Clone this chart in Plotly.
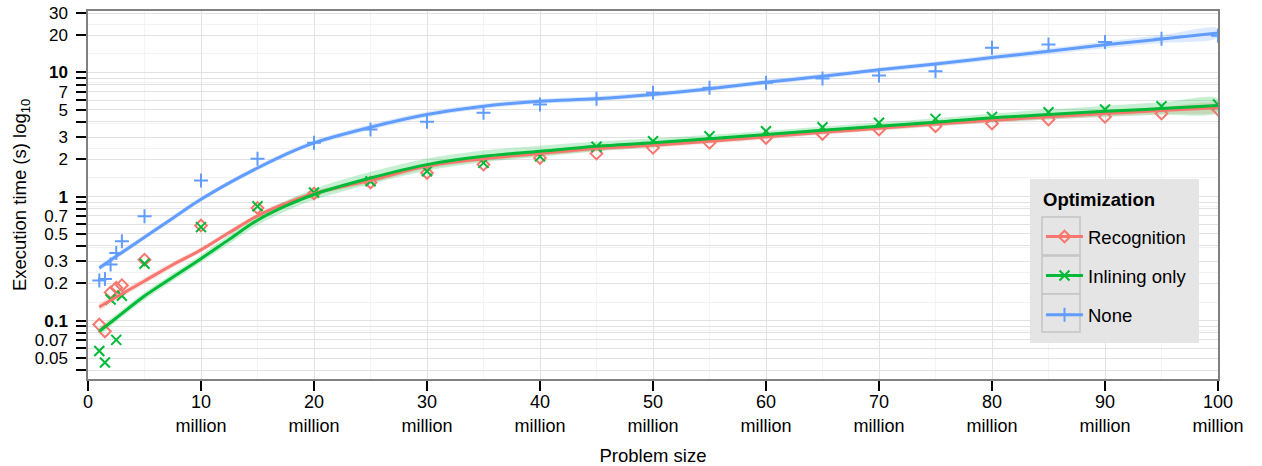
import plotly.graph_objects as go

# ---------------- data ----------------
sizes_m = [1, 1.5, 2, 2.5, 3, 5, 10, 15, 20, 25, 30, 35, 40, 45, 50, 55,
           60, 65, 70, 75, 80, 85, 90, 95, 100]          # problem size, millions

recognition = [0.093, 0.082, 0.169, 0.184, 0.193, 0.31, 0.584, 0.81, 1.06,
               1.30, 1.55, 1.81, 2.05, 2.22, 2.47, 2.71, 2.97, 3.20, 3.47,
               3.69, 3.88, 4.18, 4.39, 4.67, 5.03]
inlining = [0.057, 0.046, 0.148, 0.070, 0.159, 0.288, 0.567, 0.835, 1.08,
            1.33, 1.60, 1.87, 2.11, 2.52, 2.79, 3.06, 3.36, 3.62, 3.93,
            4.23, 4.39, 4.78, 5.03, 5.35, 5.52]
none_opt = [0.211, 0.217, 0.283, 0.351, 0.436, 0.694, 1.35, 2.02, 2.71,
            3.47, 4.0, 4.73, 5.52, 6.14, 6.86, 7.53, 8.26, 8.95, 9.46,
            10.24, 15.8, 16.8, 17.6, 18.7, 19.8]

# smoothed (loess) curves
fit_x = [1, 2.5, 5, 7.5, 10, 12.5, 15, 17.5, 20, 25, 30, 35, 40, 45, 50, 55,
         60, 65, 70, 75, 80, 85, 90, 95, 100]
recognition_fit = [0.129, 0.155, 0.209, 0.282, 0.372, 0.513, 0.70, 0.88, 1.06,
                   1.35, 1.76, 2.02, 2.22, 2.44, 2.59, 2.79, 3.03, 3.30, 3.55,
                   3.85, 4.12, 4.39, 4.67, 4.94, 5.2]
inlining_fit = [0.082, 0.105, 0.158, 0.224, 0.316, 0.452, 0.645, 0.84, 1.04,
                1.41, 1.81, 2.11, 2.32, 2.54, 2.71, 2.92, 3.16, 3.43, 3.69,
                3.97, 4.31, 4.58, 4.87, 5.12, 5.42]
none_fit = [0.266, 0.33, 0.47, 0.67, 0.95, 1.29, 1.70, 2.19, 2.71, 3.62,
            4.58, 5.35, 5.87, 6.14, 6.65, 7.39, 8.36, 9.33, 10.5, 11.7, 13.2,
            14.8, 16.7, 18.6, 20.8]
# half width of the confidence ribbons (log10 units)
recognition_se = [0.03, 0.028, 0.025, 0.022, 0.02, 0.02, 0.02, 0.02, 0.02,
                  0.022, 0.022, 0.02, 0.02, 0.02, 0.02, 0.02, 0.02, 0.02,
                  0.02, 0.02, 0.02, 0.022, 0.025, 0.028, 0.03]
inlining_se = [0.035, 0.03, 0.03, 0.03, 0.03, 0.035, 0.04, 0.043, 0.045,
               0.05, 0.05, 0.048, 0.045, 0.04, 0.035, 0.032, 0.03, 0.03,
               0.03, 0.032, 0.035, 0.04, 0.045, 0.05, 0.055]
none_se = [0.025, 0.022, 0.02, 0.02, 0.02, 0.02, 0.02, 0.02, 0.02, 0.022,
           0.022, 0.02, 0.02, 0.02, 0.02, 0.02, 0.02, 0.02, 0.02, 0.02,
           0.022, 0.025, 0.028, 0.032, 0.036]

series_names = ["Recognition", "Inlining only", "None"]
legend_title = "Optimization"

x_ticks = [0, 10, 20, 30, 40, 50, 60, 70, 80, 90, 100]
x_ticktext = ["0"] + [f"{v}<br>million" for v in x_ticks[1:]]

y_labelled = [0.05, 0.07, 0.1, 0.2, 0.3, 0.5, 0.7, 1, 2, 3, 5, 7, 10, 20, 30]
y_bold = [0.1, 1, 10]
y_ticks = [0.04, 0.05, 0.06, 0.07, 0.08, 0.09,
           0.1, 0.2, 0.3, 0.4, 0.5, 0.6, 0.7, 0.8, 0.9,
           1, 2, 3, 4, 5, 6, 7, 8, 9, 10, 20, 30]

# ---------------- styling ----------------
colors = ["#F8766D", "#00BA38", "#619CFF"]
fills = ["rgba(248,118,109,0.22)", "rgba(0,186,56,0.22)", "rgba(97,156,255,0.22)"]
symbols = ["diamond-open", "x-thin-open", "cross-thin-open"]
msizes = [9, 10, 10]
FONT = "Liberation Sans, Arial, Helvetica, sans-serif"

fig = go.Figure()

points = [recognition, inlining, none_opt]
fits = [recognition_fit, inlining_fit, none_fit]
ses = [recognition_se, inlining_se, none_se]

# ribbons
for i in range(3):
    up = [f * 10 ** s for f, s in zip(fits[i], ses[i])]
    lo = [f / 10 ** s for f, s in zip(fits[i], ses[i])]
    fig.add_trace(go.Scatter(x=fit_x + fit_x[::-1], y=up + lo[::-1],
                             fill="toself", fillcolor=fills[i],
                             line=dict(width=0, shape="spline"), mode="lines",
                             hoverinfo="skip", showlegend=False))
# points
for i in range(3):
    fig.add_trace(go.Scatter(x=sizes_m, y=points[i], mode="markers",
                             marker=dict(symbol=symbols[i], size=msizes[i],
                                         color=colors[i],
                                         line=dict(width=2, color=colors[i])),
                             showlegend=False))
# smooth lines
for i in range(3):
    fig.add_trace(go.Scatter(x=fit_x, y=fits[i], mode="lines",
                             line=dict(color=colors[i], width=3, shape="spline",
                                       smoothing=1.0),
                             showlegend=False))
# legend entries
for i in range(3):
    fig.add_trace(go.Scatter(x=[None], y=[None], mode="lines+markers",
                             name=series_names[i], legendgroup=series_names[i],
                             line=dict(color=colors[i], width=3),
                             marker=dict(symbol=symbols[i], size=msizes[i],
                                         color=colors[i],
                                         line=dict(width=2, color=colors[i]))))

y_ticktext = []
for v in y_ticks:
    if v in y_labelled:
        s = f"{v:g}"
        y_ticktext.append(f"<b>{s}</b>" if v in y_bold else s)
    else:
        y_ticktext.append("")

# minor grid lines at geometric mid points between labelled breaks
y_minor = [(a * b) ** 0.5 for a, b in zip(y_labelled[:-1], y_labelled[1:])]

W, H = 1262, 466
L, R, T, B = 88, 1218, 11, 379


def px_x(p):
    return (p - L) / (R - L)


def px_y(p):
    return (B - p) / (B - T)


# legend background and key boxes (ggplot style)
shapes = [dict(type="rect", xref="paper", yref="paper",
               x0=px_x(1030), x1=px_x(1199), y0=px_y(343), y1=px_y(179),
               fillcolor="#e5e5e5", line=dict(width=0), layer="above")]
for top in [217, 256, 294]:
    shapes.append(dict(type="rect", xref="paper", yref="paper",
                       x0=px_x(1042), x1=px_x(1080), y0=px_y(top + 38),
                       y1=px_y(top), fillcolor="#e5e5e5",
                       line=dict(width=1.5, color="#c4c4c4"), layer="above"))

annotations = [dict(text=f"<b>{legend_title}</b>", xref="paper", yref="paper",
                    x=px_x(1041), y=px_y(199), xanchor="left", yanchor="middle",
                    showarrow=False, font=dict(size=18.5, color="black"))]

fig.update_layout(
    width=W, height=H,
    margin=dict(l=L, r=W - R, t=T, b=H - B, autoexpand=False),
    paper_bgcolor="white", plot_bgcolor="white",
    font=dict(family=FONT, size=18, color="black"),
    showlegend=True,
    shapes=shapes,
    annotations=annotations,
    legend=dict(x=px_x(1041), y=px_y(218), xanchor="left", yanchor="top",
                bgcolor="rgba(0,0,0,0)", borderwidth=0,
                font=dict(size=18.5), itemwidth=37, tracegroupgap=12,
                itemclick=False),
    xaxis=dict(range=[0, 100], tickmode="array", tickvals=x_ticks,
               ticktext=x_ticktext, ticks="outside", ticklen=10, tickwidth=2,
               tickcolor="black", showline=True, linecolor="#808080",
               linewidth=1.5, mirror=True, showgrid=True, gridcolor="#e2e2e2",
               gridwidth=1.3, zeroline=False, automargin=False,
               tickfont=dict(size=18), ticklabelstandoff=-4,
               minor=dict(dtick=5, showgrid=True, gridcolor="#f4f4f4",
                          gridwidth=1.3, ticks=""),
               title=dict(text="Problem size", font=dict(size=18.5), standoff=16)),
    yaxis=dict(type="log", range=[-1.47, 1.4955], tickmode="array",
               tickvals=y_ticks, ticktext=y_ticktext, ticks="outside",
               ticklen=10, tickwidth=2, tickcolor="black", showline=True,
               linecolor="#808080", linewidth=1.5, mirror=True,
               showgrid=True, gridcolor="#e2e2e2", gridwidth=1.3,
               zeroline=False, automargin=False, tickfont=dict(size=17),
               ticklabelstandoff=5,
               minor=dict(tickmode="array", tickvals=y_minor, showgrid=True,
                          gridcolor="#f2f2f2", gridwidth=1.3, ticks=""),
               title=dict(text="Execution time (s) log<sub>10</sub>",
                          font=dict(size=18.5), standoff=3)),
)

fig.write_html("out.html", config={"displayModeBar": False},
               post_script="document.body.style.margin='0';")
